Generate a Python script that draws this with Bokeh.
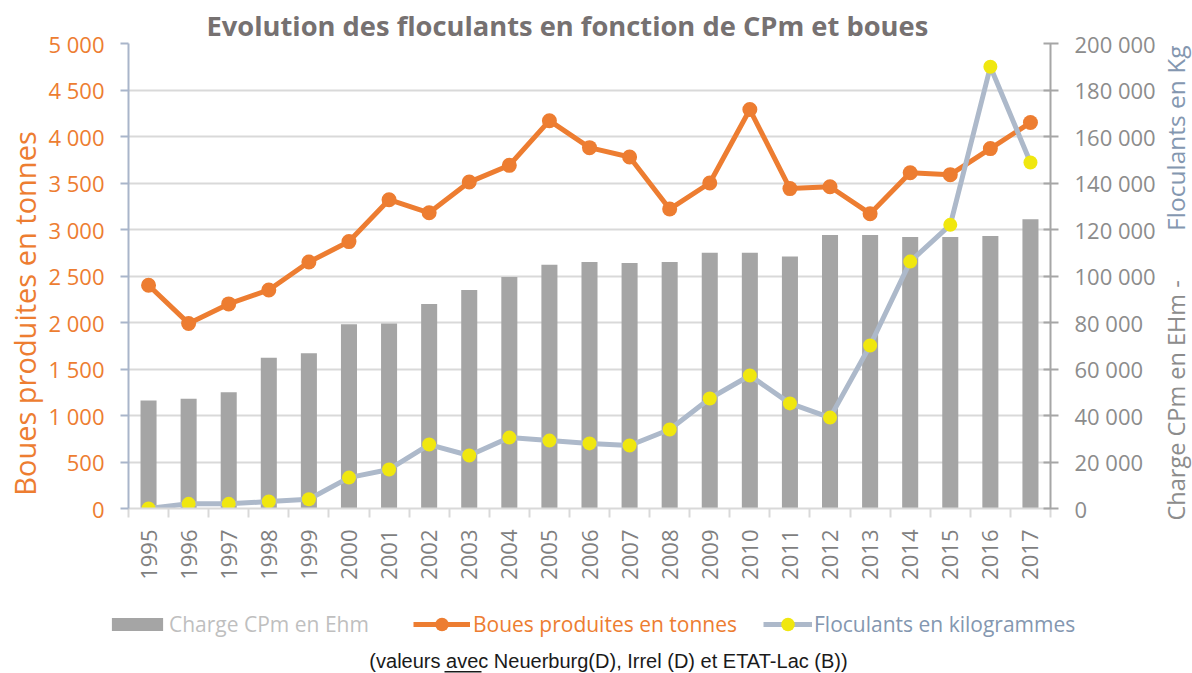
from math import pi
from bokeh.plotting import figure
from bokeh.layouts import row, column
from bokeh.models import (Range1d, LinearAxis, FixedTicker, Legend, LegendItem, Label,
                          BoxAnnotation, ColumnDataSource)
from bokeh.embed import file_html
from bokeh.resources import INLINE

# ---- data ----
years = [1995, 1996, 1997, 1998, 1999, 2000, 2001, 2002, 2003, 2004, 2005, 2006,
         2007, 2008, 2009, 2010, 2011, 2012, 2013, 2014, 2015, 2016, 2017]
charge_cpm = [46400, 47200, 50000, 64800, 66800, 79200, 79600, 88000, 94000, 99600,
              104800, 106000, 105600, 106000, 110000, 110000, 108400, 117600, 117600,
              116800, 116800, 117200, 124400]
boues = [2400, 1990, 2200, 2350, 2650, 2870, 3320, 3180, 3510, 3690, 4170, 3880,
         3780, 3220, 3500, 4290, 3440, 3460, 3170, 3610, 3590, 3870, 4150]
floculants = [0, 2000, 2000, 3000, 4000, 13300, 16800, 27500, 22800, 30500, 29200,
              28000, 27100, 34000, 47300, 57200, 45200, 39100, 70100, 106200, 122000,
              190000, 148800]
left_ticks = list(range(0, 5001, 500))
right_ticks = list(range(0, 200001, 20000))

title_text = "Evolution des floculants en fonction de CPm et boues"
left_label = "Boues produites en tonnes"
right_label_a = "Charge CPm en EHm  -"
right_label_b = "Floculants en Kg"
legend_labels = ["Charge CPm en Ehm", "Boues produites en tonnes", "Floculants en kilogrammes"]
footnote = "(valeurs avec Neuerburg(D), Irrel (D) et ETAT-Lac (B))"

# ---- styles ----
ORANGE = "#ED7D31"
BAR = "#A5A5A5"
BLUE = "#ADB9CA"
BLUE_TXT = "#8497B0"
YELLOW = "#F0E70F"
GRID = "#D9D9D9"
FONT = "Open Sans"
TOP_H = 600
LEFT_W = 44
RIGHT_W = 34


def fmt(v):
    return f"{v:,}".replace(",", " ")


def blank_fig(w, h):
    f = figure(width=w, height=h, output_backend="svg", toolbar_location=None,
               x_range=Range1d(0, 1), y_range=Range1d(0, 1),
               x_axis_type=None, y_axis_type=None,
               min_border_left=0, min_border_right=0, min_border_top=0, min_border_bottom=0)
    f.outline_line_color = None
    try:
        f.frame_align = False
    except Exception:
        pass
    return f


xs = list(range(len(years)))
src = ColumnDataSource(dict(x=xs, charge=charge_cpm, boues=boues, floc=floculants))

# ---- main chart ----
P_W = 1192 - LEFT_W - RIGHT_W
p = figure(width=P_W, height=TOP_H, output_backend="svg", toolbar_location=None,
           title=title_text,
           x_range=Range1d(-0.5, len(years) - 0.5), y_range=Range1d(0, 5000),
           min_border_left=128 - LEFT_W, min_border_right=LEFT_W + P_W - 1052,
           min_border_top=43, min_border_bottom=TOP_H - 508)
p.outline_line_color = None
p.title.align = "left"
p.title.offset = 78
p.title.standoff = 0
p.title.text_font = FONT
p.title.text_font_size = "27.3px"
p.title.text_font_style = "bold"
p.title.text_color = "#767171"
p.extra_y_ranges = {"right": Range1d(0, 200000)}

p.vbar(x="x", top="charge", width=0.4, source=src, y_range_name="right",
       fill_color=BAR, line_color=None)
p.line("x", "boues", source=src, line_color=ORANGE, line_width=5)
p.scatter("x", "boues", source=src, size=15, fill_color=ORANGE, line_color=None)
p.line("x", "floc", source=src, y_range_name="right", line_color=BLUE, line_width=5)
p.scatter("x", "floc", source=src, y_range_name="right", size=14,
          fill_color=YELLOW, line_color=None)

xa = p.xaxis[0]
xa.ticker = FixedTicker(ticks=xs, minor_ticks=[i - 0.5 for i in range(len(years) + 1)])
xa.major_label_overrides = {i: str(y) for i, y in zip(xs, years)}
xa.major_label_orientation = pi / 2
xa.major_tick_out = 0
xa.major_tick_in = 0
xa.minor_tick_out = 9
xa.minor_tick_in = 0
xa.minor_tick_line_color = GRID
xa.minor_tick_line_width = 2
xa.axis_line_color = GRID
xa.axis_line_width = 2
xa.major_label_text_color = "#7F7F7F"
xa.major_label_text_font = FONT
xa.major_label_text_font_size = "22px"
xa.major_label_standoff = 12

ya = p.yaxis[0]
ya.ticker = FixedTicker(ticks=left_ticks)
ya.major_label_overrides = {t: fmt(t) for t in left_ticks}
ya.axis_line_color = "#A9B5CA"
ya.axis_line_width = 2
ya.major_tick_line_color = "#A9B5CA"
ya.major_tick_line_width = 2
ya.major_tick_out = 8
ya.major_tick_in = 0
ya.minor_tick_line_color = None
ya.major_label_text_color = ORANGE
ya.major_label_text_font = FONT
ya.major_label_text_font_size = "22px"
ya.major_label_standoff = 16

ra = LinearAxis(y_range_name="right", ticker=FixedTicker(ticks=right_ticks))
ra.major_label_overrides = {t: fmt(t) for t in right_ticks}
ra.axis_line_color = "#A6A6A6"
ra.axis_line_width = 2
ra.major_tick_line_color = "#A6A6A6"
ra.major_tick_line_width = 2
ra.major_tick_out = 8
ra.major_tick_in = 7
ra.minor_tick_line_color = None
ra.major_label_text_color = "#8C8C8C"
ra.major_label_text_font = FONT
ra.major_label_text_font_size = "22px"
ra.major_label_standoff = 16
p.add_layout(ra, "right")

p.xgrid.visible = False
p.ygrid.ticker = FixedTicker(ticks=left_ticks)
p.ygrid.grid_line_color = GRID
p.ygrid.grid_line_width = 2

# ---- left axis title ----
lf = blank_fig(LEFT_W, TOP_H)
lf.add_layout(Label(x=24, y=TOP_H - 313, x_units="screen", y_units="screen", text=left_label,
                    angle=pi / 2, text_align="center", text_baseline="middle",
                    text_font=FONT, text_font_size="29px", text_color=ORANGE))

# ---- right axis title ----
rf = blank_fig(RIGHT_W, TOP_H)
rf.add_layout(Label(x=17, y=TOP_H - 520, x_units="screen", y_units="screen", text=right_label_a,
                    angle=pi / 2, text_align="left", text_baseline="middle",
                    text_font=FONT, text_font_size="23.5px", text_color="#8C8C8C"))
rf.add_layout(Label(x=17, y=TOP_H - 45, x_units="screen", y_units="screen", text=right_label_b,
                    angle=pi / 2, text_align="right", text_baseline="middle",
                    text_font=FONT, text_font_size="24.5px", text_color=BLUE_TXT))

# ---- legend + footnote (legend proxies lie outside the visible range) ----
BOT_H = 673 - TOP_H
bf = blank_fig(1192, BOT_H)
pb = bf.vbar(x=years, top=charge_cpm, width=0.4, fill_color=BAR, line_color=None)
pl1 = bf.line(x=years, y=boues, line_color=ORANGE, line_width=5)
ps1 = bf.scatter(x=years, y=boues, size=15, fill_color=ORANGE, line_color=None)
pl2 = bf.line(x=years, y=floculants, line_color=BLUE, line_width=5)
ps2 = bf.scatter(x=years, y=floculants, size=14, fill_color=YELLOW, line_color=None)


def make_legend(label, renderers, loc, gw, gh, color, standoff):
    return Legend(items=[LegendItem(label=label, renderers=renderers)], location=loc,
                  orientation="horizontal", glyph_width=gw, glyph_height=gh,
                  label_standoff=standoff, label_text_font=FONT,
                  label_text_font_size="21px", label_text_color=color,
                  label_height=16, padding=0, margin=0, spacing=0,
                  border_line_color=None, background_fill_alpha=0)


leg_cy = 673 - 624  # legend centre measured from the bottom of the strip
bf.add_layout(make_legend(legend_labels[0], [pb], (105, leg_cy - 14), 64, 16, "#BFBFBF", 0))
bf.add_layout(make_legend(legend_labels[1], [pl1, ps1], (413, leg_cy - 17), 57, 34, ORANGE, 3))
bf.add_layout(make_legend(legend_labels[2], [pl2, ps2], (763, leg_cy - 17), 49, 34, BLUE_TXT, 2))

bf.add_layout(Label(x=608, y=673 - 660, x_units="screen", y_units="screen", text=footnote,
                    text_align="center", text_baseline="middle",
                    text_font="Liberation Sans Narrow, Liberation Sans, sans-serif",
                    text_font_size="20px", text_color="#1A1A1A"))
bf.add_layout(BoxAnnotation(left=444, right=481, top=2.5, bottom=1,
                            left_units="screen", right_units="screen",
                            top_units="screen", bottom_units="screen",
                            fill_color="#1A1A1A", fill_alpha=1, line_color=None))

layout = column(row(lf, p, rf, spacing=0), bf, spacing=0)
open("out.html", "w").write(file_html(layout, INLINE))
